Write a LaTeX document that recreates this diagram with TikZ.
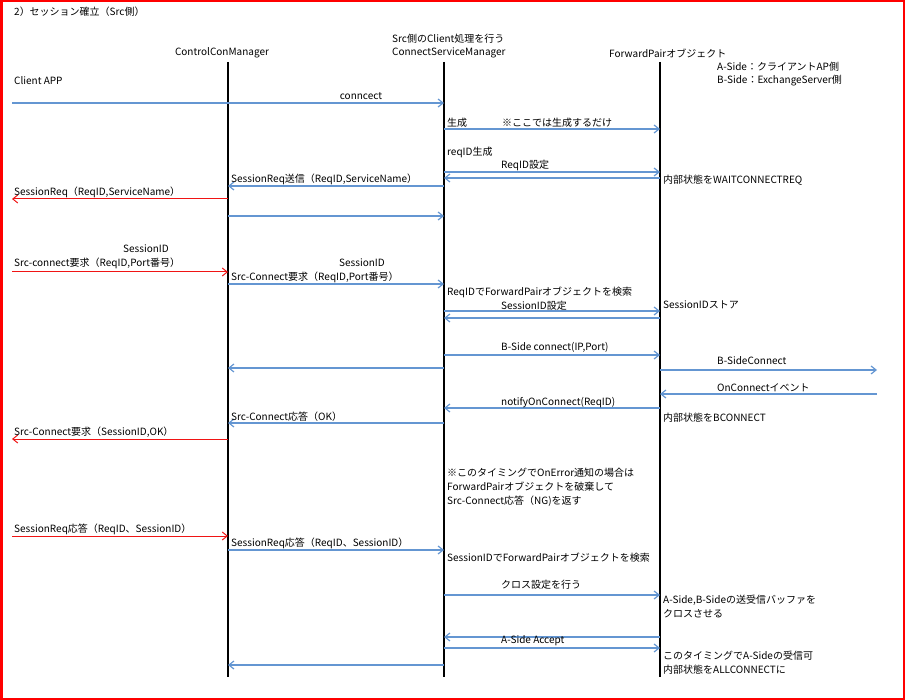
\documentclass[tikz,border=0pt]{standalone}
\usepackage{fontspec}
\setmainfont{Noto Sans CJK JP}
\usepackage{tikz}
\usetikzlibrary{arrows.meta}
\definecolor{framered}{RGB}{255, 0, 0}
\definecolor{msgblue}{RGB}{100, 150, 210}
\definecolor{msgred}{RGB}{240, 20, 20}

\tikzset{
    txt/.style={anchor=west, inner sep=0pt, font=\fontsize{10pt}{12pt}\selectfont},
    lifeline/.style={line width=2pt, black},
    bmsg/.style={->, msgblue, line width=1.2pt},
    rmsg/.style={->, msgred, line width=1pt},
}

\begin{document}
\begin{tikzpicture}[x=1pt, y=-1pt, >={Straight Barb[length=5pt, width=8pt]}]
    \draw[framered, line width=2.5pt] (1.25,1.25) rectangle (903.75,698.75);
    \useasboundingbox (0,0) rectangle (905,700);

    % lifelines
    \coordinate (app) at (12,62);
    \coordinate (ccm) at (228,62);
    \coordinate (csm) at (444,62);
    \coordinate (fwd) at (660,62);
    \coordinate (ext) at (877,62);
    \draw[lifeline] (ccm) -- (ccm |- 0,677);
    \draw[lifeline] (csm) -- (csm |- 0,677);
    \draw[lifeline] (fwd) -- (fwd |- 0,677);

    \node[txt] (title) at (14,12) {2）セッション確立（Src側）};
    \node[txt, anchor=center] (ccmname) at (222,53) {ControlConManager};
    \node[txt] (csmnote) at (392,39) {Src側のClient処理を行う};
    \node[txt] (csmname) at (392,53) {ConnectServiceManager};
    \node[txt] (fwdname) at (609,53) {ForwardPairオブジェクト};
    \node[txt] (aside) at (717,67) {A-Side：クライアントAP側};
    \node[txt] (bside) at (717,81) {B-Side：ExchangeServer側};
    \node[txt] (appname) at (14,81) {Client APP};

    % connect
    \draw[bmsg] (app |- 0,103) -- (csm |- 0,103);
    \node[txt, anchor=center] (connlbl) at (361,96) {conncect};
    \draw[bmsg] (csm |- 0,129) -- (fwd |- 0,129);
    \node[txt] (genlbl) at (447,123) {生成};
    \node[txt] (gennote) at (502,123) {※ここでは生成するだけ};
    \node[txt] (reqgen) at (447,152) {reqID生成};
    \draw[bmsg] (csm |- 0,172) -- (fwd |- 0,172);
    \node[txt] (reqset) at (501,165) {ReqID設定};
    \draw[bmsg] (fwd |- 0,178) -- (csm |- 0,178);
    \node[txt] (waitst) at (663,180) {内部状態をWAITCONNECTREQ};
    \draw[bmsg] (csm |- 0,186) -- (ccm |- 0,186);
    \node[txt] (sreqsend) at (231,179) {SessionReq送信（ReqID,ServiceName）};
    \draw[rmsg] (ccm |- 0,199) -- (app |- 0,199);
    \node[txt] (sreq) at (14,192) {SessionReq（ReqID,ServiceName）};
    \draw[bmsg] (ccm |- 0,216) -- (csm |- 0,216);

    % src-connect
    \node[txt] (sid1) at (123,249) {SessionID};
    \node[txt] (srcreq1) at (14,263) {Src-connect要求（ReqID,Port番号）};
    \draw[rmsg] (app |- 0,272) -- (ccm |- 0,272);
    \node[txt] (sid2) at (339,263) {SessionID};
    \node[txt] (srcreq2) at (231,277) {Src-Connect要求（ReqID,Port番号）};
    \draw[bmsg] (ccm |- 0,284) -- (csm |- 0,284);
    \node[txt] (search1) at (447,292) {ReqIDでForwardPairオブジェクトを検索};
    \draw[bmsg] (csm |- 0,311) -- (fwd |- 0,311);
    \node[txt] (sidset) at (501,306) {SessionID設定};
    \node[txt] (sidstore) at (663,305) {SessionIDストア};
    \draw[bmsg] (fwd |- 0,318) -- (csm |- 0,318);
    \draw[bmsg] (csm |- 0,355) -- (fwd |- 0,355);
    \node[txt] (bconn) at (501,347) {B-Side connect(IP,Port)};
    \draw[bmsg] (csm |- 0,368) -- (ccm |- 0,368);
    \draw[bmsg] (fwd |- 0,370) -- (ext |- 0,370);
    \node[txt] (bsideconn) at (717,361) {B-SideConnect};
    \draw[bmsg] (ext |- 0,394) -- (fwd |- 0,394);
    \node[txt] (onconn) at (717,388) {OnConnectイベント};
    \draw[bmsg] (fwd |- 0,408) -- (csm |- 0,408);
    \node[txt] (notify) at (501,403) {notifyOnConnect(ReqID)};
    \node[txt] (bst) at (663,418) {内部状態をBCONNECT};
    \draw[bmsg] (csm |- 0,423) -- (ccm |- 0,423);
    \node[txt] (srcok) at (231,417) {Src-Connect応答（OK）};
    \draw[rmsg] (ccm |- 0,439) -- (app |- 0,439);
    \node[txt] (srcreqok) at (14,432) {Src-Connect要求（SessionID,OK）};
    \node[txt] (err1) at (447,473) {※このタイミングでOnError通知の場合は};
    \node[txt] (err2) at (447,487) {ForwardPairオブジェクトを破棄して};
    \node[txt] (err3) at (447,501) {Src-Connect応答（NG)を返す};

    % session response
    \draw[rmsg] (app |- 0,536) -- (ccm |- 0,536);
    \node[txt] (sres1) at (14,529) {SessionReq応答（ReqID、SessionID）};
    \draw[bmsg] (ccm |- 0,550) -- (csm |- 0,550);
    \node[txt] (sres2) at (231,543) {SessionReq応答（ReqID、SessionID）};
    \node[txt] (search2) at (447,558) {SessionIDでForwardPairオブジェクトを検索};
    \draw[bmsg] (csm |- 0,595) -- (fwd |- 0,595);
    \node[txt] (cross) at (501,585) {クロス設定を行う};
    \node[txt] (buf1) at (663,600) {A-Side,B-Sideの送受信バッファを};
    \node[txt] (buf2) at (663,614) {クロスさせる};
    \draw[bmsg] (fwd |- 0,637) -- (csm |- 0,637);
    \node[txt] (accept) at (501,641) {A-Side Accept};
    \draw[bmsg] (csm |- 0,648) -- (fwd |- 0,648);
    \node[txt] (allc1) at (663,656) {このタイミングでA-Sideの受信可};
    \node[txt] (allc2) at (663,670) {内部状態をALLCONNECTに};
    \draw[bmsg] (csm |- 0,665) -- (ccm |- 0,665);
\end{tikzpicture}
\end{document}
